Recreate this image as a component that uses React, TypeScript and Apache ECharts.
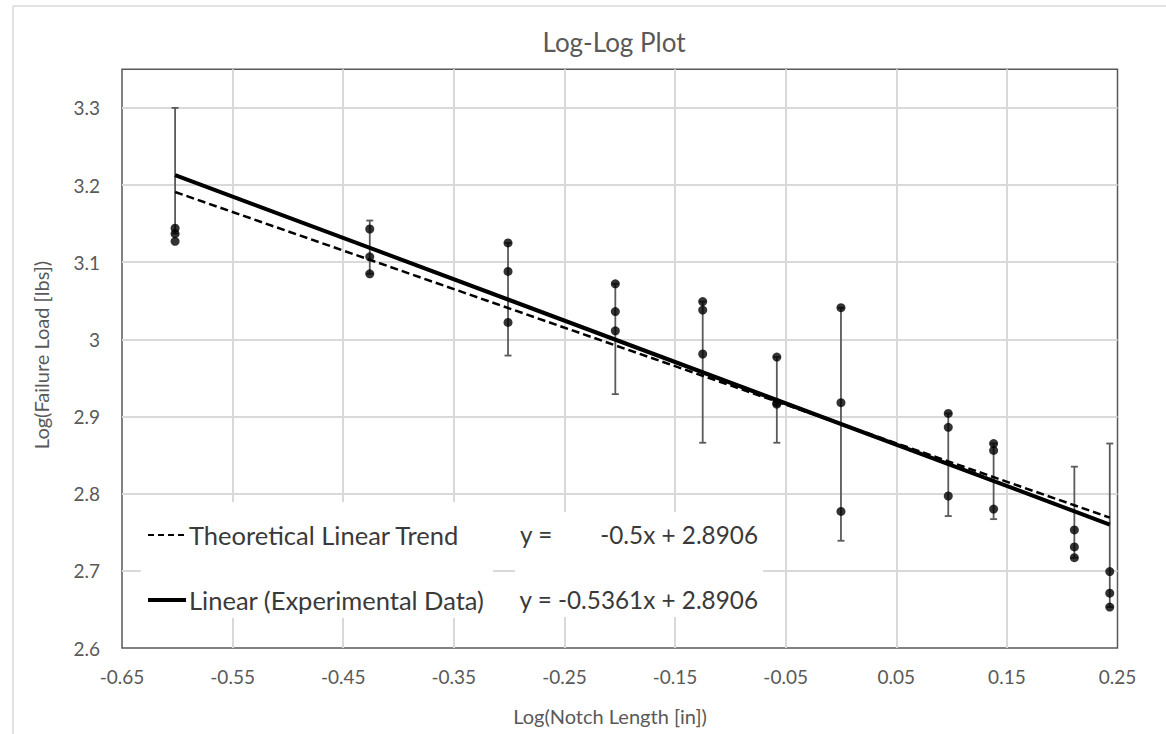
import React, { useEffect, useRef } from "react";
import * as echarts from "echarts";

// Log(Notch Length [in]) of each specimen group
const notchLog = [-0.602, -0.426, -0.301, -0.204, -0.125, -0.058, 0.0, 0.097, 0.138, 0.211, 0.243];
// Log(Failure Load [lbs]) of the three specimens of each group
const loadHigh = [3.144, 3.143, 3.125, 3.072, 3.049, 2.977, 3.041, 2.904, 2.865, 2.753, 2.699];
const loadMid = [3.137, 3.107, 3.088, 3.036, 3.038, 2.918, 2.918, 2.886, 2.856, 2.731, 2.671];
const loadLow = [3.127, 3.085, 3.022, 3.011, 2.981, 2.916, 2.777, 2.797, 2.78, 2.717, 2.653];
// error bar ends
const errLow = [3.137, 3.085, 2.979, 2.929, 2.866, 2.866, 2.739, 2.771, 2.767, 2.717, 2.653];
const errHigh = [3.3, 3.154, 3.125, 3.072, 3.049, 2.977, 3.041, 2.904, 2.865, 2.835, 2.865];
// trend lines (end points)
const fitX = [-0.602, 0.243];
const experimentalFitY = [3.213, 2.76];
const theoreticalFitY = [3.191, 2.769];

const legendLabels = ["Theoretical Linear Trend", "Linear (Experimental Data)"];
const equationLabels = ["y =", "-0.5x + 2.8906", "y = -0.5361x + 2.8906"];

const FONT = "Lato, 'Noto Sans', sans-serif";

export default function App() {
  const ref = useRef<HTMLDivElement>(null);
  useEffect(() => {
    if (!ref.current) return;
    const chart = echarts.init(ref.current, undefined, { renderer: "svg" });

    const points: number[][] = [];
    notchLog.forEach((x, i) => {
      points.push([x, loadHigh[i]]);
      points.push([x, loadMid[i]]);
      points.push([x, loadLow[i]]);
    });
    const bars = notchLog.map((x, i) => [x, errLow[i], errHigh[i]]);
    const expLine = fitX.map((x, i) => [x, experimentalFitY[i]]);
    const theoLine = fitX.map((x, i) => [x, theoreticalFitY[i]]);

    const grey = "#595959";
    const textDark = "#3a3a3a";

    chart.setOption({
      animation: false,
      backgroundColor: "#ffffff",
      title: {
        text: "Log-Log Plot",
        left: 614,
        top: 29,
        textAlign: "center",
        padding: 0,
        textStyle: { fontFamily: FONT, fontSize: 26, fontWeight: "normal", color: grey },
      },
      grid: {
        left: 122,
        right: 48.5,
        top: 69.3,
        bottom: 86,
        containLabel: false,
        outerBoundsMode: "none",
        show: true,
        borderColor: grey,
        borderWidth: 1.5,
        backgroundColor: "transparent",
      },
      xAxis: {
        type: "value",
        min: -0.65,
        max: 0.25,
        interval: 0.1,
        axisLine: { show: false, onZero: false },
        axisTick: { show: false },
        splitLine: {
          show: true,
          showMinLine: false,
          showMaxLine: false,
          lineStyle: { color: "#d9d9d9", width: 2 },
        },
        axisLabel: {
          margin: 19,
          fontFamily: FONT,
          fontSize: 19,
          color: grey,
          formatter: (v: number) => v.toFixed(2),
        },
      },
      yAxis: {
        type: "value",
        min: 2.6,
        max: 3.35,
        interval: 0.1,
        axisLine: { show: false, onZero: false },
        axisTick: { show: false },
        splitLine: {
          show: true,
          showMinLine: false,
          showMaxLine: false,
          lineStyle: { color: "#d9d9d9", width: 2 },
        },
        axisLabel: {
          margin: 22,
          fontFamily: FONT,
          fontSize: 19,
          color: grey,
          showMaxLabel: false,
          formatter: (v: number) => (v > 3.32 ? "" : String(+v.toFixed(2))),
        },
      },
      series: [
        {
          name: "Error",
          type: "custom",
          z: 2,
          data: bars,
          encode: { x: 0, y: [1, 2] },
          renderItem: (params: any, api: any) => {
            const x = api.value(0);
            const pLo = api.coord([x, api.value(1)]);
            const pHi = api.coord([x, api.value(2)]);
            const cap = 3.5;
            const style = { stroke: "#5a5a5a", lineWidth: 1.8 };
            return {
              type: "group",
              children: [
                { type: "line", shape: { x1: pLo[0], y1: pLo[1], x2: pHi[0], y2: pHi[1] }, style },
                { type: "line", shape: { x1: pLo[0] - cap, y1: pLo[1], x2: pLo[0] + cap, y2: pLo[1] }, style },
                { type: "line", shape: { x1: pHi[0] - cap, y1: pHi[1], x2: pHi[0] + cap, y2: pHi[1] }, style },
              ],
            };
          },
        },
        {
          name: "Theoretical Linear Trend",
          type: "line",
          z: 3,
          data: theoLine,
          symbol: "none",
          lineStyle: { color: "#000000", width: 2.5, type: [8, 4] },
        },
        {
          name: "Linear (Experimental Data)",
          type: "line",
          z: 4,
          data: expLine,
          symbol: "none",
          lineStyle: { color: "#000000", width: 4 },
        },
        {
          name: "Experimental Data",
          type: "scatter",
          z: 5,
          data: points,
          symbol: "circle",
          symbolSize: 9,
          itemStyle: { color: "#000000" },
        },
      ],
      graphic: [
        // chart area frame (partially visible)
        { type: "line", z: 100, shape: { x1: 13, y1: 6, x2: 1166, y2: 6 }, style: { stroke: "#d9d9d9", lineWidth: 1.5 } },
        { type: "line", z: 100, shape: { x1: 13, y1: 6, x2: 13, y2: 734 }, style: { stroke: "#d9d9d9", lineWidth: 1.5 } },
        // axis titles
        {
          type: "text",
          z: 100,
          x: 610,
          y: 716,
          style: { text: "Log(Notch Length [in])", fontFamily: FONT, fontSize: 20, fill: grey, align: "center", verticalAlign: "middle" },
        },
        {
          type: "text",
          z: 100,
          x: 40.7,
          y: 355,
          rotation: Math.PI / 2,
          style: { text: "Log(Failure Load [lbs])", fontFamily: FONT, fontSize: 20, fill: grey, align: "center", verticalAlign: "middle" },
        },
        // legend box
        { type: "rect", z: 100, shape: { x: 140.7, y: 502, width: 352.3, height: 116 }, style: { fill: "#ffffff" } },
        { type: "line", z: 101, shape: { x1: 148, y1: 535, x2: 185, y2: 535 }, style: { stroke: "#000000", lineWidth: 2.2, lineDash: [6, 4] } },
        { type: "line", z: 101, shape: { x1: 148, y1: 600, x2: 186, y2: 600 }, style: { stroke: "#000000", lineWidth: 3.8 } },
        {
          type: "text",
          z: 101,
          x: 189,
          y: 535,
          style: { text: legendLabels[0], fontFamily: FONT, fontSize: 25.5, fill: textDark, align: "left", verticalAlign: "middle" },
        },
        {
          type: "text",
          z: 101,
          x: 189,
          y: 600,
          style: { text: legendLabels[1], fontFamily: FONT, fontSize: 25.5, fill: textDark, align: "left", verticalAlign: "middle" },
        },
        // equation box
        { type: "rect", z: 100, shape: { x: 515, y: 512, width: 248, height: 105 }, style: { fill: "#ffffff" } },
        {
          type: "text",
          z: 101,
          x: 520,
          y: 534,
          style: { text: equationLabels[0], fontFamily: FONT, fontSize: 24.3, fill: textDark, align: "left", verticalAlign: "middle" },
        },
        {
          type: "text",
          z: 101,
          x: 758,
          y: 534,
          style: { text: equationLabels[1], fontFamily: FONT, fontSize: 24.3, fill: textDark, align: "right", verticalAlign: "middle" },
        },
        {
          type: "text",
          z: 101,
          x: 758,
          y: 599,
          style: { text: equationLabels[2], fontFamily: FONT, fontSize: 24.3, fill: textDark, align: "right", verticalAlign: "middle" },
        },
      ],
    });
    return () => chart.dispose();
  }, []);

  return (
    <div
      ref={ref}
      style={{ position: "absolute", left: 0, top: 0, width: 1166, height: 734, background: "#ffffff" }}
    />
  );
}
